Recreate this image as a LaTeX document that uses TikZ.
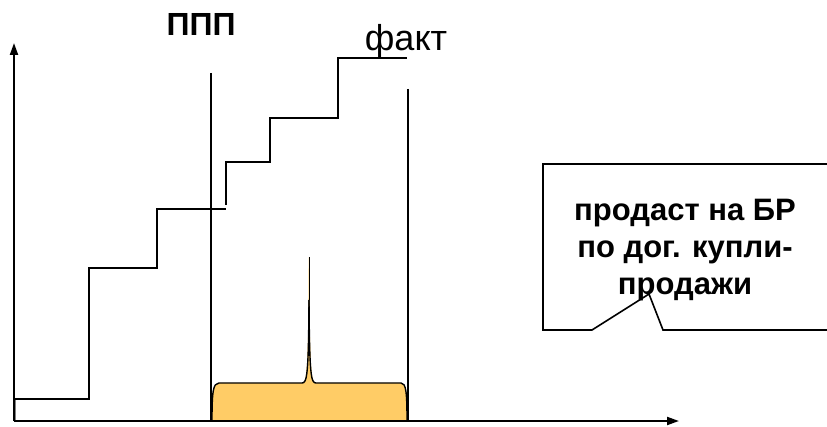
\documentclass[tikz,border=0pt]{standalone}
\usepackage{fontspec}
\setmainfont{Liberation Sans}
\usetikzlibrary{arrows.meta}
\definecolor{ordfill}{RGB}{255,204,102}

\begin{document}
\begin{tikzpicture}[x=1pt, y=-1pt,
    axis/.style={line width=2pt, -{Triangle[length=12pt,width=8pt]}},
    stair/.style={line width=1.3pt},
    mark line/.style={line width=1.8pt},
    callout/.style={line width=1.6pt}]
      \useasboundingbox (0,0) rectangle (827,427);

      \coordinate (O) at (14,421);
      \coordinate (ytop) at (14,43);
      \coordinate (xend) at (679,421);

      % volume shape between the two lines
      \draw[ordfill, fill=ordfill] (212,421) .. controls (212,392) and (213,383) .. (219,383)
            -- (302,383) .. controls (307,383) and (308.5,376) .. (309,257)
            .. controls (309.5,376) and (311,383) .. (316,383)
            -- (401,383) .. controls (406,383) and (407,392) .. (407,421) -- cycle;
      \draw[line width=1.4pt] (212,421) .. controls (212,392) and (213,383) .. (219,383)
            -- (302,383) .. controls (307,383) and (308.5,376) .. (309,300);
      \draw[line width=0.6pt] (309,300) -- (309,257);
      \draw[line width=1.4pt] (309,300) .. controls (309.5,376) and (311,383) .. (316,383)
            -- (401,383) .. controls (406,383) and (407,392) .. (407,421);

      % fact stairs
      \draw[stair, gray] (15,421) -- (15,399);
      \draw[stair] (14,399) -| (89,268) -| (157,209) -- (226,209);
      \draw[stair] (226,205) |- (270,162) |- (338,118) |- (407,58);

      % period lines
      \coordinate (pppA) at (211,73);
      \coordinate (pppB) at (211,421);
      \coordinate (endA) at (408,89);
      \coordinate (endB) at (408,421);
      \draw[mark line] (pppA) -- (pppB);
      \draw[mark line] (endA) -- (endB);

      \node[font=\fontsize{32}{36}\selectfont\bfseries] (ppp) at (201,24) {ППП};
      \node[font=\fontsize{36}{40}\selectfont] (fakt) at (406,41) {факт};

      % axes
      \draw[axis] (O) -- (ytop);
      \draw[axis] (O) -- (xend);

      % callout
      \coordinate (tip) at (649,294);
      \draw[callout] (827,164) -- (543,164) -- (543,330) -- (592,330) -- (tip)
            -- (663,330) -- (827,330);
      \node[align=center, font=\fontsize{31}{37}\selectfont\bfseries] (bal) at (685,250)
            {продаст на БР\\ по дог. купли-\\ продажи};
\end{tikzpicture}
\end{document}
